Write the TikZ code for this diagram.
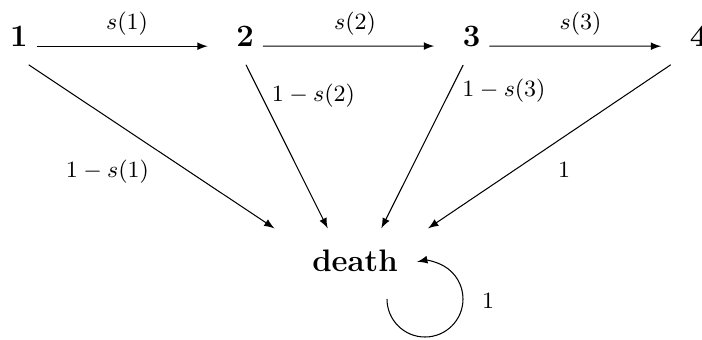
\documentclass[tikz,border=0pt]{standalone}
\begin{document}
\begin{tikzpicture}[
    x=0.386pt, y=-0.386pt,
    agebox/.style={font=\large\bfseries, inner ysep=7pt},
    sinkbox/.style={font=\large\bfseries, inner xsep=16pt, inner ysep=8.15pt},
    lbl/.style={font=\small},
    arrow/.style={->, >=latex}
]
  \useasboundingbox (0,0) rectangle (702,339);

  % Age classes along the top
  \node[agebox] (a1) at (18.8,36)  {1};
  \node[agebox] (a2) at (245,36)   {2};
  \node[agebox] (a3) at (471.5,36) {3};
  \node[agebox] (a4) at (698.5,36) {4};
  \node[sinkbox] (death) at (355,260.9) {death};
  \coordinate (loopstart) at (387,299);

  % Survival arrows
  \draw[arrow, shorten >=7.5pt] (a1.base east) -- (a2.base west);
  \draw[arrow, shorten >=7.5pt] (a2.base east) -- (a3.base west);
  \draw[arrow, shorten >=7.5pt] (a3.base east) -- (a4.base west);
  \node[lbl] (l12) at (127,24) {$s(1)$};
  \node[lbl] (l23) at (355,24) {$s(2)$};
  \node[lbl] (l34) at (580.5,24) {$s(3)$};

  % Arrows to death
  \draw[arrow] (a1.-71.8) -- (death.158.7);
  \draw[arrow] (a2.-88) -- (death.130.2);
  \draw[arrow] (a3.-106.9) -- (death.51.9);
  \draw[arrow, shorten <=4.6pt] (a4.-129.5) -- (death.24.5);
  \node[lbl] (l1d) at (107.5,172) {$1-s(1)$};
  \node[lbl] (l2d) at (313.5,96)  {$1-s(2)$};
  \node[lbl] (l3d) at (504,91)    {$1-s(3)$};
  \node[lbl] (l4d) at (564,169.5) {$1$};

  % Death stays death
  \draw[arrow] (loopstart) arc[start angle=180, end angle=-102, radius=38];
  \node[lbl] (ldd) at (488,301) {$1$};
\end{tikzpicture}
\end{document}
